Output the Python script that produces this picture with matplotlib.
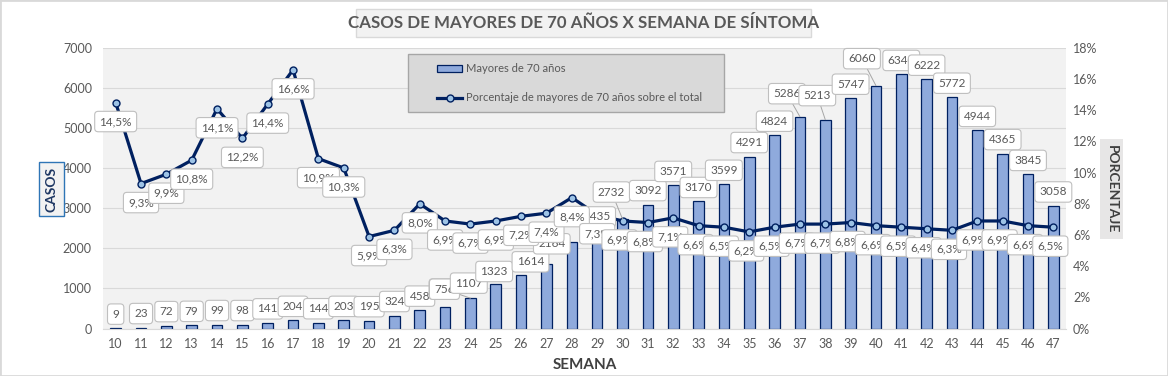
import matplotlib
matplotlib.use('Agg')
import matplotlib.pyplot as plt
from matplotlib.patches import Rectangle
from matplotlib.lines import Line2D

plt.rcParams['font.family'] = ['Lato', 'DejaVu Sans']

# Datos
semanas = list(range(10, 48))
casos = [9, 23, 72, 79, 99, 98, 141, 204, 144, 203, 195,
         324, 458, 535, 756, 1107, 1323, 1614, 2164, 2435,
         2732, 3092, 3571, 3170, 3599, 4291, 4824, 5286, 5213, 5747,
         6060, 6340, 6222, 5772, 4944, 4365, 3845, 3058]
porcentaje = [14.5, 9.3, 9.9, 10.8, 14.1, 12.2, 14.4, 16.6, 10.9, 10.3, 5.9,
              6.3, 8.0, 6.9, 6.7, 6.9, 7.2, 7.4, 8.4, 7.3,
              6.9, 6.8, 7.1, 6.6, 6.5, 6.2, 6.5, 6.7, 6.7, 6.8,
              6.6, 6.5, 6.4, 6.3, 6.9, 6.9, 6.6, 6.5]

titulo = 'CASOS DE MAYORES DE 70 AÑOS X SEMANA DE SÍNTOMA'
serie_barras = 'Mayores de 70 años'
serie_linea = 'Porcentaje de mayores de 70 años sobre el total'

# estilo
W, H = 1168, 376
bar_color = '#8faadc'
navy = '#002060'
marker_face = '#9dc3e6'
gray_txt = '#595959'
grid_col = '#d9d9d9'

# desplazamientos de etiquetas de barras (pixeles, dx, dy hacia arriba)
bar_label_shift = {23: (-1, 18), 24: (-26, 9), 25: (-27, 1), 26: (-27, 4),
                   27: (-16, 2), 28: (-20, -2), 30: (-11, 27), 37: (-13, 23),
                   38: (-8, 24), 40: (-14, 27)}
leader_weeks = {24, 30, 37, 38, 40}


def fx(x):
    return x / W


def fy(y):
    return 1 - y / H


fig = plt.figure(figsize=(W / 100, H / 100), dpi=100)
ax = fig.add_axes([fx(103), fy(328.5), (1066 - 103) / W, (328.5 - 48) / H])
ax.set_facecolor('#f2f2f2')
ax2 = ax.twinx()

# barras
ax.bar(semanas, casos, width=0.42, color=bar_color, edgecolor=navy, linewidth=0.9, zorder=2)
ax.set_xlim(9.5, 47.5)
ax.set_ylim(0, 7000)
ax.set_yticks(range(0, 7001, 1000))
ax.set_xticks(semanas)
ax.grid(axis='y', color=grid_col, linewidth=0.8, zorder=0)
ax.set_axisbelow(True)
ax.tick_params(length=0, labelsize=9, colors=gray_txt)
ax.tick_params(axis='y', pad=8)
ax.tick_params(axis='x', pad=7)
for s in ['top', 'left', 'right']:
    ax.spines[s].set_visible(False)
ax.spines['bottom'].set_color(grid_col)

# linea porcentaje
ax2.plot(semanas, porcentaje, color=navy, linewidth=2.3, marker='o', markersize=5,
         markerfacecolor=marker_face, markeredgecolor=navy, markeredgewidth=1, zorder=3)
ax2.set_ylim(0, 18)
ax2.set_yticks(range(0, 19, 2))
ax2.set_yticklabels([f'{v}%' for v in range(0, 19, 2)])
ax2.tick_params(length=0, labelsize=9, colors=gray_txt, pad=5)
for s in ax2.spines.values():
    s.set_visible(False)

box = dict(boxstyle='round,pad=0.4,rounding_size=0.3', fc='white', ec='#bfbfbf', lw=0.8)

# etiquetas de barras
for w, c in zip(semanas, casos):
    dx, dy = bar_label_shift.get(w, (0, 14))
    arrow = None
    if w in leader_weeks:
        arrow = dict(arrowstyle='-', color='#a6a6a6', lw=0.7, shrinkA=0, shrinkB=0)
    ax2.annotate(str(c), xy=(w, c), xycoords=ax.transData, xytext=(dx, dy),
                 textcoords='offset pixels', ha='center', va='center', fontsize=8.5,
                 color=gray_txt, bbox=box, arrowprops=arrow, zorder=4)

# etiquetas de porcentaje
for w, p in zip(semanas, porcentaje):
    dx = 0 if w < 30 else -3
    ax2.annotate(f'{p:.1f}%'.replace('.', ','), xy=(w, p), xytext=(dx, -19),
                 textcoords='offset pixels', ha='center', va='center', fontsize=8.5,
                 color=gray_txt, bbox=box, zorder=5)

# titulo
fig.add_artist(Rectangle((fx(356), fy(37)), (811 - 356) / W, 28 / H, transform=fig.transFigure,
                         fc='#f2f2f2', ec=grid_col, lw=1))
fig.text(fx(583.5), fy(23), titulo, ha='center', va='center', fontsize=12.2,
         fontweight='bold', color=gray_txt)

# leyenda
fig.add_artist(Rectangle((fx(408), fy(112)), (724 - 408) / W, 58 / H, transform=fig.transFigure,
                         fc='#d9d9d9', ec='#a6a6a6', lw=1))
fig.add_artist(Rectangle((fx(437), fy(72)), 25 / W, 7 / H, transform=fig.transFigure,
                         fc=bar_color, ec=navy, lw=0.9))
fig.text(fx(466), fy(68.5), serie_barras, ha='left', va='center', fontsize=8, color=gray_txt)
fig.add_artist(Line2D([fx(437), fx(462)], [fy(98), fy(98)], transform=fig.transFigure,
                      color=navy, linewidth=2.3))
fig.add_artist(Line2D([fx(449.5)], [fy(98)], transform=fig.transFigure, marker='o',
                      markersize=5, markerfacecolor=marker_face, markeredgecolor=navy,
                      markeredgewidth=1, linestyle='none'))
fig.text(fx(466), fy(97.5), serie_linea, ha='left', va='center', fontsize=8, color=gray_txt)

# titulos de ejes
fig.add_artist(Rectangle((fx(39), fy(216)), 25 / W, 54 / H, transform=fig.transFigure,
                         fc='#f2f2f2', ec='#2e75b6', lw=1))
fig.text(fx(51.5), fy(189), 'CASOS', rotation=90, ha='center', va='center', fontsize=10,
         fontweight='bold', color='#1f3864')
fig.add_artist(Rectangle((fx(1100), fy(239)), 23 / W, 100 / H, transform=fig.transFigure,
                         fc='#e7e6e6', ec='none'))
fig.text(fx(1111.5), fy(189), 'PORCENTAJE', rotation=270, ha='center', va='center',
         fontsize=10, fontweight='bold', color='#404040')
fig.text(fx(585), fy(365), 'SEMANA', ha='center', va='center', fontsize=11,
         fontweight='bold', color='#404040')

# borde exterior
fig.add_artist(Rectangle((0, 0), 1, 1, transform=fig.transFigure, fill=False, ec=grid_col, lw=2))

fig.savefig('out.png', dpi=100)
